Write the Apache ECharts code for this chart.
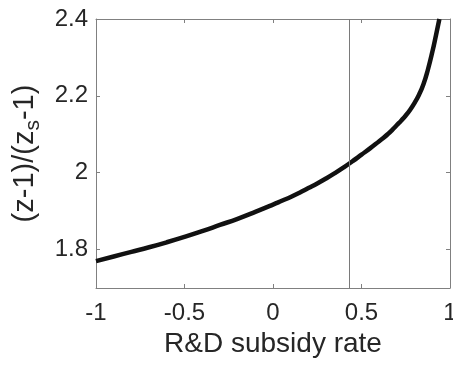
<!DOCTYPE html>
<html>
<head>
<meta charset="utf-8">
<script src="https://cdn.jsdelivr.net/npm/echarts@6/dist/echarts.min.js"></script>
<style>
  html, body { margin: 0; padding: 0; background: #fff; }
  #chart { width: 453px; height: 365px; }
</style>
</head>
<body>
<div id="chart"></div>
<script>
// R&D subsidy rate (x) and the ratio (z-1)/(z_s-1) (y)
const subsidyRate = [-1.0, -0.9, -0.8, -0.7, -0.6, -0.5, -0.4, -0.3, -0.2, -0.1,
  0.0, 0.05, 0.1, 0.15, 0.2, 0.25, 0.3, 0.35, 0.4, 0.45, 0.5, 0.55, 0.6,
  0.625, 0.65, 0.675, 0.7, 0.725, 0.75, 0.775, 0.8, 0.825, 0.85, 0.875, 0.9, 0.92, 0.94];
const ratio = [1.770, 1.782, 1.794, 1.806, 1.819, 1.833, 1.848, 1.864, 1.880, 1.898,
  1.917, 1.927, 1.937, 1.948, 1.960, 1.972, 1.985, 1.999, 2.014, 2.030, 2.047, 2.064, 2.082,
  2.091, 2.101, 2.112, 2.124, 2.136, 2.149, 2.164, 2.182, 2.203, 2.230, 2.268, 2.314, 2.356, 2.400];

// vertical reference line position
const markerRate = 0.435;

// tick values
const xTicks = [-1, -0.5, 0, 0.5, 1];
const yTicks = [1.8, 2.0, 2.2, 2.4];

const axisGray = '#808080';
const textColor = '#262626';
const fontFam = '"Liberation Sans", Arial, Helvetica, sans-serif';

const chart = echarts.init(document.getElementById('chart'), null, { renderer: 'canvas' });

const fmt = v => String(Math.round(v * 10) / 10);

const boxAxis = {
  axisLine: { show: true, onZero: false, lineStyle: { color: axisGray, width: 1 } },
  axisTick: { show: true, inside: true, length: 4, lineStyle: { color: axisGray } },
  splitLine: { show: false }
};

chart.setOption({
  animation: false,
  backgroundColor: '#fff',
  grid: { left: 96, right: 3, top: 19, bottom: 77, containLabel: false, outerBoundsMode: 'none' },
  xAxis: [Object.assign({
    type: 'value', min: -1, max: 1, interval: 0.5,
    name: 'R&D subsidy rate', nameLocation: 'middle', nameGap: 42,
    nameTextStyle: { fontFamily: fontFam, fontSize: 28, color: textColor },
    axisLabel: { fontFamily: fontFam, fontSize: 24, color: textColor, margin: 13, formatter: fmt,
      customValues: xTicks, showMinLabel: true, showMaxLabel: true, hideOverlap: false }
  }, boxAxis), Object.assign({
    type: 'value', min: -1, max: 1, interval: 0.5, position: 'top',
    axisLabel: { show: false }
  }, boxAxis)],
  yAxis: [Object.assign({
    type: 'value', min: 1.7, max: 2.4,
    name: '(z-1)/(z{s|s}-1)', nameLocation: 'middle', nameGap: 52, nameRotate: 90,
    nameTextStyle: {
      fontFamily: fontFam, fontSize: 29, color: textColor,
      rich: { s: { fontFamily: fontFam, fontSize: 21, color: textColor, padding: [16, 0, 0, 0] } }
    },
    axisLabel: { fontFamily: fontFam, fontSize: 24, color: textColor, margin: 8, formatter: fmt,
      customValues: yTicks, hideOverlap: false }
  }, boxAxis, {
    axisTick: { show: true, inside: true, length: 4, lineStyle: { color: axisGray }, customValues: yTicks }
  }), Object.assign({
    type: 'value', min: 1.7, max: 2.4, position: 'right',
    axisLabel: { show: false }
  }, boxAxis, {
    axisTick: { show: true, inside: true, length: 4, lineStyle: { color: axisGray }, customValues: yTicks }
  })],
  series: [{
    type: 'line',
    data: subsidyRate.map((x, i) => [x, ratio[i]]),
    smooth: 0.5,
    showSymbol: false,
    clip: true,
    lineStyle: { color: '#111', width: 4.5 },
    markLine: {
      silent: true, symbol: ['none', 'none'],
      label: { show: false },
      lineStyle: { color: '#7a7a7a', width: 1, type: 'solid' },
      data: [{ xAxis: markerRate }]
    }
  }]
});
</script>
</body>
</html>
